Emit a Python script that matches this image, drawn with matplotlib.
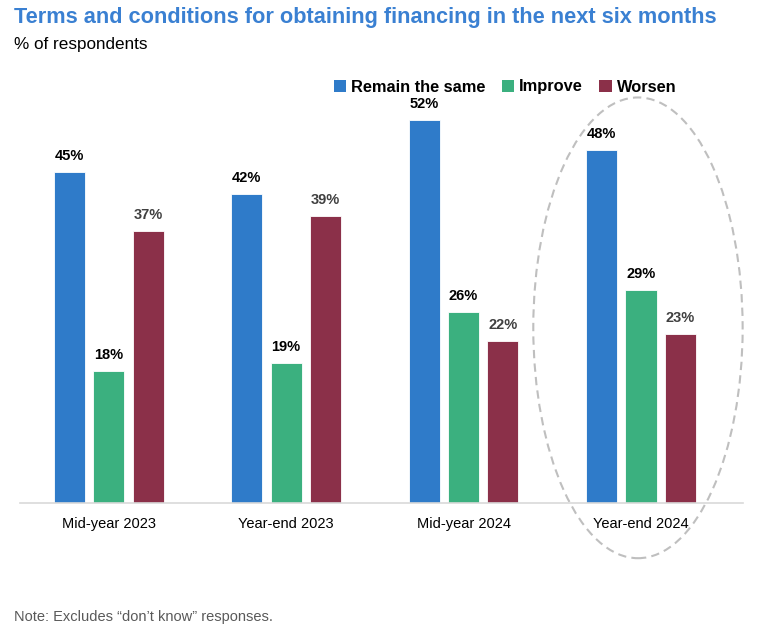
import matplotlib
matplotlib.use('Agg')
import matplotlib.pyplot as plt
from matplotlib.patches import Ellipse, Patch
import numpy as np

plt.rcParams['font.family'] = ['Liberation Sans', 'DejaVu Sans']

# Data
periods = ['Mid-year 2023', 'Year-end 2023', 'Mid-year 2024', 'Year-end 2024']
series = ['Remain the same', 'Improve', 'Worsen']
remain = [45, 42, 52, 48]
improve = [18, 19, 26, 29]
worsen = [37, 39, 22, 23]
colors = ['#2F7BC9', '#3BB07F', '#8B3049']
label_colors = ['#000000', '#000000', '#404040']

fig = plt.figure(figsize=(7.7, 6.44), dpi=100)
ax = fig.add_axes([20 / 770, 141 / 644, 723 / 770, 441.6 / 644])

x = np.arange(len(periods))
width = 0.175
step = 0.222
for i, (vals, c, lc) in enumerate(zip([remain, improve, worsen], colors, label_colors)):
    pos = x + (i - 1) * step
    ax.bar(pos, vals, width, color=c, edgecolor='white', linewidth=0.6)
    for p, v in zip(pos, vals):
        ax.text(p, v + 1.2, f'{v}%', ha='center', va='bottom', fontsize=10.5,
                fontweight='bold', color=lc)

ax.set_xlim(-0.5, 3.575)
ax.set_ylim(0, 60)
ax.set_xticks(x)
ax.set_xticklabels(periods, fontsize=10.5)
ax.tick_params(axis='x', length=0, pad=10)
ax.set_yticks([])
for s in ['top', 'right', 'left']:
    ax.spines[s].set_visible(False)
ax.spines['bottom'].set_color('#D9D9D9')
ax.spines['bottom'].set_linewidth(1.2)

# highlight of the latest period
ell = Ellipse((2.983, 23.8), 1.18, 62.6, fill=False, edgecolor='#BFBFBF',
              linestyle=(0, (4, 2.5)), linewidth=1.5, clip_on=False)
ax.add_patch(ell)

fig.text(14 / 770, 1 - 18 / 644, 'Terms and conditions for obtaining financing in the next six months',
         fontsize=15.7, fontweight='bold', color='#3A80D2', va='center')
fig.text(14 / 770, 1 - 44 / 644, '% of respondents', fontsize=12.3, va='center')
fig.text(14 / 770, 1 - 617 / 644, 'Note: Excludes \u201cdon\u2019t know\u201d responses.',
         fontsize=10.5, color='#595959', va='center')

handles = [Patch(facecolor=c, label=s) for c, s in zip(colors, series)]
leg = fig.legend(handles=handles, loc='center right', bbox_to_anchor=(691 / 770, 1 - 87 / 644),
                 ncol=3, frameon=False, handlelength=0.75, handleheight=0.75,
                 handletextpad=0.3, columnspacing=1.0,
                 prop={'weight': 'bold', 'size': 11.8})

fig.savefig('out.png', dpi=100)
